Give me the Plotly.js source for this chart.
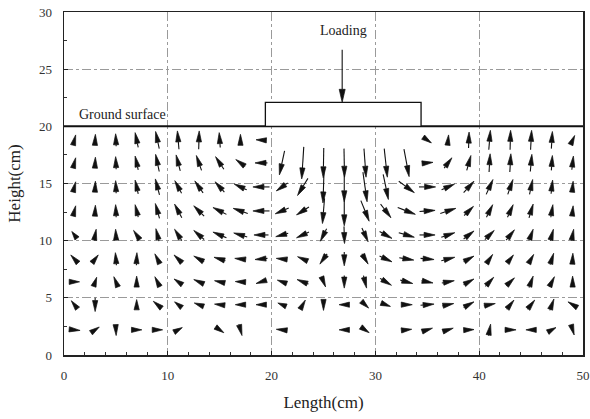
<!DOCTYPE html>
<html><head><meta charset="utf-8">
<script src="https://cdn.plot.ly/plotly-3.0.1.min.js"></script>
<style>html,body{margin:0;padding:0;background:#fff}</style>
</head><body>
<div id="chart" style="width:590px;height:419px"></div>
<script>
// grid of measurement points (cm)
const colX = [1,3,5,7,9,11,13,15,17,19,21,23,25,27,29,31,33,35,37,39,41,43,45,47,49];
const rowY = [18.8,16.8,14.7,12.6,10.5,8.4,6.4,4.4,2.2];
// displacement vectors (drawn length, cm), one list per row, top to bottom
const dispU = [
 [0.25,0.05,-0.05,-0.3,-0.35,-0.15,0.05,-0.1,0,-1.0,null,null,null,null,null,null,null,0.8,0.1,0.05,0.15,0.05,0.1,0.1,0.4],
 [0.25,0.05,-0.05,-0.3,-0.35,-0.4,-0.5,-0.8,-0.9,-1.2,-0.5,-0.2,-0.05,0.05,0.2,0.3,0.5,1.1,0.75,0.4,0.1,0.1,0.15,0.1,0.15],
 [0.25,0.05,-0.05,-0.3,-0.4,-0.65,-0.8,-0.9,-1.2,-1.6,-1.1,-1.0,-0.1,0,0.4,0.5,1.5,1.6,1.25,1.0,0.65,0.5,0.3,0.15,0.1],
 [0.25,0.05,-0.05,-0.3,-0.4,-0.7,-1.0,-1.3,-1.4,-1.6,-1.3,-1.2,-0.2,0,0.8,1.0,1.7,1.5,1.5,0.9,0.6,0.55,0.4,0.2,0.1],
 [-0.5,0.2,-0.05,-0.6,-0.3,-0.7,-1.0,-1.3,-1.3,-1.4,-1.2,-1.2,-0.6,0.05,0.6,1.2,1.5,1.5,1.3,1.0,0.9,0.8,0.4,0.3,0.2],
 [-0.7,0.6,-0.1,0.05,-0.5,-0.8,-1.0,-1.1,-1.1,-1.2,-1.1,-1.0,-0.7,0,0.6,1.2,1.4,1.3,1.3,1.0,0.6,0.6,0.5,0.35,0.05],
 [1.0,0.3,-0.4,0,-0.5,-0.8,-1.0,-1.0,-1.0,-1.0,-0.9,-1.1,0.4,0,0.3,1.1,1.2,1.1,1.2,1.0,0.8,0.8,0.4,0.5,0],
 [-0.6,0,null,0,-0.8,-0.7,-0.9,-1.0,-1.0,-1.0,-0.8,0.5,0,-1.0,0.7,0.9,1.1,1.3,1.1,1.0,1.1,0.7,0.7,0.4,-0.9],
 [1.1,0.8,0.05,1.0,1.0,0.8,null,0.8,0.3,null,-1.1,null,null,-1.0,0.8,null,1.0,1.0,1.0,1.0,0.2,1.1,-1.0,0.8,0.3]
];
const dispV = [
 [0.9,1.0,1.1,1.3,1.5,1.6,1.6,1.3,1.0,0.05,null,null,null,null,null,null,null,-0.5,0.9,1.4,1.7,1.7,1.7,1.5,0.8],
 [0.9,1.0,1.1,1.2,1.5,1.4,1.3,1.1,0.6,0,-2.1,-2.8,-2.6,-2.5,-2.5,-2.5,-2.4,0.1,0.9,1.3,1.6,1.6,1.5,1.3,1.2],
 [0.9,1.0,1.1,1.2,1.4,1.1,1.05,0.9,0.5,0,-0.7,-1.5,-2.8,-2.6,-2.6,-2.2,-1.0,0,0.5,1.0,1.3,1.3,1.3,1.2,1.0],
 [0.9,1.0,1.1,1.1,1.3,1.2,0.9,0.6,0.45,0,-0.5,-0.7,-2.2,-2.6,-1.8,-1.2,-0.6,0.1,0.45,0.8,1.1,1.1,1.2,1.1,0.9],
 [0.6,1.0,1.0,0.8,1.1,1.0,0.8,0.5,0.35,0,-0.3,-0.5,-1.1,-1.5,-1.2,-0.6,-0.4,0,0.4,0.7,0.8,0.9,1.0,1.0,1.0],
 [0.7,0.7,1.1,1.1,0.9,0.7,0.5,0.3,0.1,-0.1,0.1,0.4,-0.9,-1.2,-0.9,-0.5,-0.2,-0.1,0.3,0.5,0.8,0.7,0.8,1.0,1.0],
 [0,0.8,0.9,1.0,0.9,0.5,0.4,0.2,0.05,-0.3,0.3,0.4,-0.9,-1.1,-1.1,-0.6,-0.3,-0.2,0.2,0.5,0.8,0.7,1.0,0.9,1.0],
 [0.7,-1.2,null,0.9,0.6,0.5,0.3,0.1,0,0,0.3,0.8,-1.0,0,-0.6,-0.3,0,0.1,0.2,0.5,0.2,0.8,0.8,1.0,0.5],
 [-0.1,0.5,-1.0,0,0,0.4,null,-0.5,-1.0,null,0.1,null,null,0,-0.5,null,0.1,0.3,0.3,0.05,1.0,0,0,0.4,-0.9]
];
// loading arrow and footing
const loadArrowX = [26.8, 26.8];
const loadArrowY = [26.7, 22.1];
const footingX = [19.4, 34.4];
const footingY = [20, 22.1];
const groundLevel = 20;
const xTicks = [0,10,20,30,40,50];
const yTicks = [0,5,10,15,20,25,30];

const W=590, H=419, M={l:64,r:7,t:12,b:64,pad:0};
const xr=[0,50], yr=[0,30];
const sx=(W-M.l-M.r)/(xr[1]-xr[0]), sy=(H-M.t-M.b)/(yr[1]-yr[0]);

const shaft={x:[],y:[]}, head={x:[],y:[]};
function addArrow(x0,y0,x1,y1,hLen,hw){
  const dx=(x1-x0)*sx, dy=(y1-y0)*sy, L=Math.hypot(dx,dy);
  if(!L) return;
  const ux=dx/L, uy=dy/L, h=Math.min(L,hLen);
  const bx=x1-ux*h/sx, by=y1-uy*h/sy;
  if(L>h+0.5){shaft.x.push(x0,bx,null); shaft.y.push(y0,by,null);}
  head.x.push(x1, bx-uy*hw/sx, bx+uy*hw/sx, x1, null);
  head.y.push(y1, by+ux*hw/sy, by-ux*hw/sy, y1, null);
}
rowY.forEach((y,r)=>{
  colX.forEach((x,c)=>{
    const u=dispU[r][c], v=dispV[r][c];
    if(u==null||v==null) return;
    addArrow(x-u/2, y-v/2, x+u/2, y+v/2, 11, 2.6);
  });
});
addArrow(loadArrowX[0],loadArrowY[0],loadArrowX[1],loadArrowY[1],13,3);

const serif='Liberation Serif';
const traces=[
 {type:'scatter',mode:'lines',x:shaft.x,y:shaft.y,line:{color:'#111',width:1.1},hoverinfo:'skip'},
 {type:'scatter',mode:'lines',x:head.x,y:head.y,fill:'toself',fillcolor:'#111',line:{color:'#111',width:0.7},hoverinfo:'skip'}
];
const axBase={showline:true,linecolor:'#222',linewidth:1.5,mirror:true,ticks:'inside',ticklen:4,tickcolor:'#222',
  showgrid:true,gridcolor:'#9a9a9a',griddash:'dashdot',gridwidth:1,zeroline:false,ticklabelstandoff:8,
  tickfont:{family:serif,size:13,color:'#333'}};
const layout={
 width:W,height:H,margin:M,paper_bgcolor:'#fff',plot_bgcolor:'#fff',showlegend:false,hovermode:false,
 font:{family:serif},
 xaxis:Object.assign({},axBase,{range:xr,tickvals:xTicks,ticktext:xTicks.map(String),
   minor:{dtick:2,ticks:'inside',ticklen:3,tickcolor:'#333',showgrid:false},
   title:{text:'Length(cm)',font:{family:serif,size:17,color:'#222'},standoff:14}}),
 yaxis:Object.assign({},axBase,{range:yr,tickvals:yTicks,ticktext:yTicks.map(String),
   minor:{dtick:2.5,ticks:'inside',ticklen:3,tickcolor:'#333',showgrid:false},
   title:{text:'Height(cm)',font:{family:serif,size:17,color:'#222'},standoff:14}}),
 shapes:[
  {type:'line',xref:'x',yref:'y',x0:xr[0],x1:xr[1],y0:groundLevel,y1:groundLevel,line:{color:'#111',width:2}},
  {type:'rect',xref:'x',yref:'y',x0:footingX[0],x1:footingX[1],y0:footingY[0],y1:footingY[1],line:{color:'#111',width:1.3},fillcolor:'rgba(255,255,255,1)'}
 ],
 annotations:[
  {xref:'x',yref:'y',x:26.9,y:28.35,text:'Loading',showarrow:false,font:{family:serif,size:14,color:'#222'}},
  {xref:'x',yref:'y',x:1.3,y:21.0,xanchor:'left',text:'Ground surface',showarrow:false,font:{family:serif,size:14,color:'#222'}}
 ]
};
Plotly.newPlot('chart',traces,layout,{staticPlot:true,displayModeBar:false});
</script>
</body></html>
